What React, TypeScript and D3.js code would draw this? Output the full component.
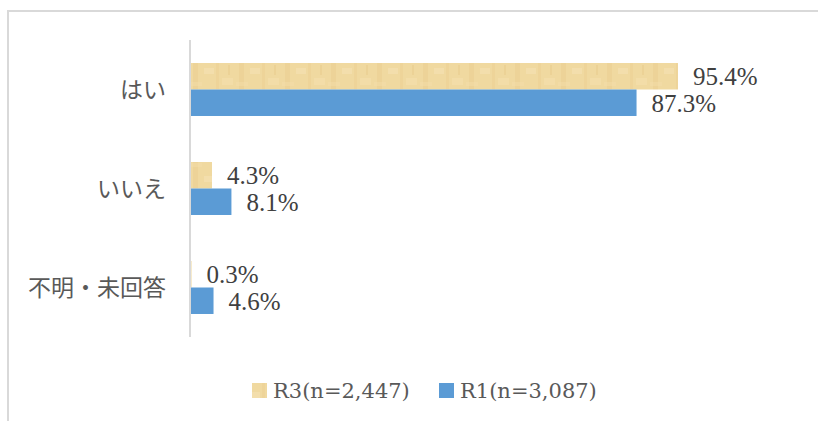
import React from 'react';
import * as d3 from 'd3';

const categories = ['はい', 'いいえ', '不明・未回答'];
const seriesNames = ['R3(n=2,447)', 'R1(n=3,087)'];
const r3Values = [95.4, 4.3, 0.3];
const r1Values = [87.3, 8.1, 4.6];

const WIDTH = 818;
const HEIGHT = 421;
const AXIS_X = 190;
const COLORS = ['url(#r3tex)', '#5B9BD5'];

const App: React.FC = () => {
  const x = d3.scaleLinear().domain([0, 100]).range([AXIS_X, 701.5]);
  const y = d3.scaleBand<string>()
    .domain(categories)
    .range([40, 337])
    .paddingInner(0.465)
    .paddingOuter(0.2325);
  const sub = d3.scaleBand<number>().domain([0, 1]).range([0, y.bandwidth()]);
  const series = [r3Values, r1Values];

  return (
    <svg width={WIDTH} height={HEIGHT} style={{ position: 'absolute', left: 0, top: 0, background: '#fff' }}>
      <defs>
        <pattern id="r3tex" width="46" height="27" patternUnits="userSpaceOnUse" x={AXIS_X} y="63">
          <rect width="46" height="27" fill="#F0D9A0" />
          <rect x="3" y="0" width="5" height="27" fill="#E9CD8E" opacity="0.45" />
          <rect x="14" y="5" width="10" height="6" fill="#F6E4B8" opacity="0.5" />
          <rect x="26" y="0" width="3" height="27" fill="#EBCF90" opacity="0.45" />
          <rect x="32" y="15" width="11" height="7" fill="#F5E1B0" opacity="0.5" />
          <rect x="0" y="19" width="12" height="4" fill="#F4DFAC" opacity="0.45" />
          <rect x="38" y="2" width="2" height="10" fill="#E6C886" opacity="0.4" />
        </pattern>
      </defs>
      {/* 枠線 */}
      <rect x={8} y={11} width={WIDTH + 20} height={HEIGHT + 20} fill="none" stroke="#D9D9D9" strokeWidth={2} />

      {/* バー */}
      {categories.map((c, i) => (
        <g key={c}>
          {series.map((vals, s) => {
            const by = (y(c) ?? 0) + (sub(s) ?? 0);
            const bh = sub.bandwidth();
            return (
              <g key={s}>
                <rect x={AXIS_X + 1} y={by} width={x(vals[i]) - AXIS_X - 1} height={bh} fill={COLORS[s]} />
                <text
                  x={x(vals[i]) + 15}
                  y={by + bh / 2}
                  dy="0.36em"
                  fontFamily="'Liberation Serif', serif"
                  fontSize={25}
                  fill="#404040"
                >
                  {vals[i].toFixed(1)}%
                </text>
              </g>
            );
          })}
          <text
            x={166}
            y={(y(c) ?? 0) + y.bandwidth() / 2}
            dy="0.36em"
            textAnchor="end"
            fontFamily="'Noto Sans CJK JP', sans-serif"
            fontSize={23}
            fill="#595959"
          >
            {c}
          </text>
        </g>
      ))}

      {/* 縦軸 */}
      <line x1={AXIS_X} x2={AXIS_X} y1={40} y2={337} stroke="#D9D9D9" strokeWidth={2} />

      {/* 凡例 */}
      {seriesNames.map((name, s) => {
        const lx = s === 0 ? 252 : 439;
        return (
          <g key={name}>
            <rect x={lx} y={383} width={15} height={15} fill={COLORS[s]} />
            <text
              x={lx + 21}
              y={390.5}
              dy="0.36em"
              fontFamily="'DejaVu Serif', serif"
              fontSize={21}
              fill="#595959"
            >
              {name}
            </text>
          </g>
        );
      })}
    </svg>
  );
};

export default App;
